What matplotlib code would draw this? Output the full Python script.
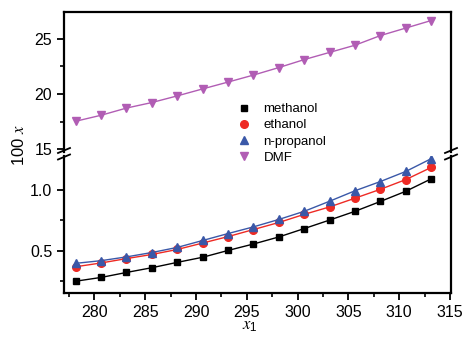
import matplotlib.pyplot as plt
import matplotlib.ticker as ticker
import numpy as np

plt.rcParams['font.family'] = ['Liberation Sans', 'DejaVu Sans']
plt.rcParams['mathtext.fontset'] = 'stix'

# temperatures (K)
temps = [278.15, 280.65, 283.15, 285.65, 288.15, 290.65, 293.15, 295.65,
         298.15, 300.65, 303.15, 305.65, 308.15, 310.65, 313.15]

methanol = [0.25, 0.281, 0.322, 0.361, 0.405, 0.447, 0.503, 0.556,
            0.614, 0.683, 0.753, 0.825, 0.906, 0.99, 1.092]
ethanol = [0.369, 0.40, 0.436, 0.47, 0.511, 0.564, 0.617, 0.675,
           0.733, 0.80, 0.861, 0.933, 1.006, 1.086, 1.186]
propanol = [0.397, 0.419, 0.45, 0.486, 0.528, 0.585, 0.642, 0.697,
            0.758, 0.825, 0.908, 0.994, 1.07, 1.153, 1.258]
dmf = [17.53, 18.07, 18.72, 19.22, 19.82, 20.45, 21.07, 21.7,
       22.38, 23.1, 23.75, 24.4, 25.27, 25.95, 26.63]

labels = ['methanol', 'ethanol', 'n-propanol', 'DMF']

W, H = 468, 340
fig = plt.figure(figsize=(W / 100, H / 100), dpi=100)

left, right = 64 / W, 451 / W
ax_top = fig.add_axes([left, 1 - 152 / H, right - left, (152 - 12) / H])
ax_bot = fig.add_axes([left, 1 - 293 / H, right - left, (293 - 156) / H])

lw = 1.0
ms = 5.5
h1, = ax_bot.plot(temps, methanol, color='black', lw=lw, marker='s', ms=ms - 0.5)
h2, = ax_bot.plot(temps, ethanol, color='#ee2a24', lw=lw, marker='o', ms=ms)
h3, = ax_bot.plot(temps, propanol, color='#3a58a8', lw=lw, marker='^', ms=ms + 0.5)
h4, = ax_top.plot(temps, dmf, color='#b15db4', lw=lw, marker='v', ms=ms + 0.5)

for ax in (ax_top, ax_bot):
    ax.set_xlim(277, 315.1)
    for s in ax.spines.values():
        s.set_linewidth(1.6)
    ax.tick_params(which='major', direction='out', length=5, width=1.3,
                   labelsize=11.5, right=False, top=False)
    ax.tick_params(which='minor', direction='out', length=3, width=1.2,
                   right=False, top=False)
    ax.xaxis.set_major_locator(ticker.MultipleLocator(5))
    ax.xaxis.set_minor_locator(ticker.MultipleLocator(2.5))

ax_top.set_ylim(14.75, 27.4)
ax_top.yaxis.set_major_locator(ticker.MultipleLocator(5))
ax_top.yaxis.set_minor_locator(ticker.MultipleLocator(2.5))
ax_top.spines['bottom'].set_visible(False)
ax_top.tick_params(axis='x', which='both', bottom=False, labelbottom=False)

ax_bot.set_ylim(0.153, 1.28)
ax_bot.yaxis.set_major_locator(ticker.FixedLocator([0.5, 1.0]))
ax_bot.yaxis.set_minor_locator(ticker.FixedLocator([0.25, 0.75]))
ax_bot.yaxis.set_major_formatter(ticker.FormatStrFormatter('%.1f'))
ax_bot.spines['top'].set_visible(False)

# break marks
for xf in (left, right):
    for yp in (150.5, 157):
        x0 = xf * W
        fig.add_artist(plt.Line2D([(x0 - 6) / W, (x0 + 6) / W],
                                  [1 - (yp + 2.5) / H, 1 - (yp - 2.5) / H],
                                  color='black', lw=1.3, transform=fig.transFigure))

fig.text(19 / W, 1 - 145 / H, '100 $x$', rotation=90, ha='center', va='center',
         fontsize=12)
fig.text(250 / W, 1 - 326 / H, '$x_{\\mathregular{1}}$', ha='center', va='center',
         fontsize=12)

fig.legend([h1, h2, h3, h4], labels, loc='upper left',
           bbox_to_anchor=(237 / W, 1 - 103 / H), frameon=False, fontsize=9.5,
           handlelength=1.0, handletextpad=1.0, labelspacing=0.3,
           borderaxespad=0, borderpad=0)
for h in fig.legends[0].legend_handles:
    h.set_linestyle('none')

fig.savefig('out.png', dpi=100)
